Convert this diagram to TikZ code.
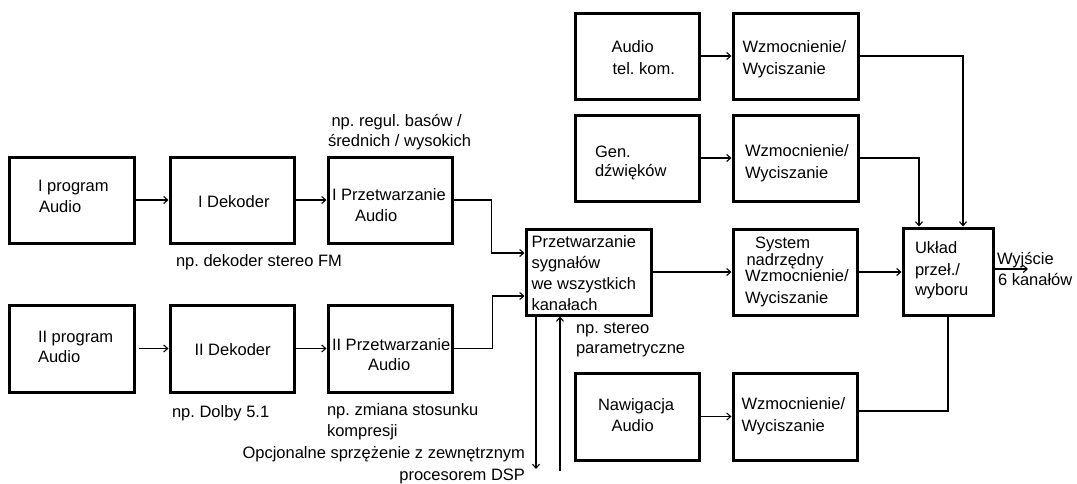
\documentclass[tikz,border=0pt]{standalone}
\usepackage{fontspec}
\setmainfont{Liberation Sans}
\usetikzlibrary{arrows.meta}
\begin{document}
\frenchspacing
\begin{tikzpicture}[x=1pt,y=-1pt,
  blk/.style={draw,line width=3pt,inner sep=0pt,minimum width=124pt,minimum height=86pt},
  lbl/.style={anchor=base west,inner sep=0pt,outer sep=0pt,font=\fontsize{16.5}{20}\selectfont},
  lblr/.style={lbl,anchor=base east},
  wire/.style={line width=1.1pt},
  arr/.style={wire,-{Straight Barb[length=4pt,width=7pt]}}]
\useasboundingbox (0,0) rectangle (1077,483);

% --- blocks ---
\node[blk,minimum width=125pt] (p1) at (71.5,200) {};
\node[blk] (d1) at (232,200) {};
\node[blk] (r1) at (390,200) {};
\node[blk,minimum width=125pt,minimum height=87pt] (p2) at (71.5,348.5) {};
\node[blk,minimum height=87pt] (d2) at (232,348.5) {};
\node[blk,minimum height=87pt] (r2) at (390,348.5) {};
\node[blk,minimum width=125pt] (pw) at (588.5,272) {};
\node[blk] (at) at (637,56) {};
\node[blk,minimum width=125pt] (w1) at (795.5,56) {};
\node[blk] (gen) at (637,158) {};
\node[blk,minimum width=125pt] (w2) at (795.5,158) {};
\node[blk] (sys) at (795,272) {};
\node[blk,minimum width=90pt,minimum height=87pt] (uk) at (948,271.5) {};
\node[blk,minimum height=87pt] (nav) at (637,416.5) {};
\node[blk,minimum height=87pt] (w3) at (795,416.5) {};

% --- texts inside blocks ---
\node[lbl] (p1a) at (38,191.5) {I program};
\node[lbl] (p1b) at (39,212.5) {Audio};
\node[lbl] (d1a) at (198,207.5) {I Dekoder};
\node[lbl] (r1a) at (332,200.5) {I Przetwarzanie};
\node[lbl] (r1b) at (355,221.5) {Audio};
\node[lbl] (p2a) at (38,342) {II program};
\node[lbl] (p2b) at (38,362.5) {Audio};
\node[lbl] (d2a) at (194.5,355.5) {II Dekoder};
\node[lbl] (r2a) at (332,350.5) {II Przetwarzanie};
\node[lbl] (r2b) at (368,370.5) {Audio};
\node[lbl] (pwa) at (531.5,247) {Przetwarzanie};
\node[lbl] (pwb) at (531.5,268.5) {sygnałów};
\node[lbl] (pwc) at (531.5,289.5) {we wszystkich};
\node[lbl] (pwd) at (531.5,310.5) {kanałach};
\node[lbl] (ata) at (611.5,52) {Audio};
\node[lbl] (atb) at (612.5,74) {tel. kom.};
\node[lbl] (w1a) at (742.5,52) {Wzmocnienie/};
\node[lbl] (w1b) at (742.5,74) {Wyciszanie};
\node[lbl] (gena) at (595,157) {Gen.};
\node[lbl] (genb) at (595,176) {dźwięków};
\node[lbl] (w2a) at (745,156.5) {Wzmocnienie/};
\node[lbl] (w2b) at (745,178.5) {Wyciszanie};
\node[lbl] (sysa) at (755,248.5) {System};
\node[lbl] (sysb) at (746.5,265.5) {nadrzędny};
\node[lbl] (sysc) at (745,281.5) {Wzmocnienie/};
\node[lbl] (sysd) at (745,303.5) {Wyciszanie};
\node[lbl] (uka) at (915,253.5) {Układ};
\node[lbl] (ukb) at (915,275.5) {przeł./};
\node[lbl] (ukc) at (915,295.5) {wyboru};
\node[lbl] (nava) at (598,410.5) {Nawigacja};
\node[lbl] (navb) at (611.5,431.5) {Audio};
\node[lbl] (w3a) at (741.5,409.5) {Wzmocnienie/};
\node[lbl] (w3b) at (741.5,431.5) {Wyciszanie};

% --- annotations ---
\node[lbl] (n1a) at (331.5,126) {np. regul. basów /};
\node[lbl] (n1b) at (328,146) {średnich / wysokich};
\node[lbl] (n2) at (176,266.5) {np. dekoder stereo FM};
\node[lbl] (n3) at (172,417.5) {np. Dolby 5.1};
\node[lbl] (n4a) at (327,415.5) {np. zmiana stosunku};
\node[lbl] (n4b) at (327,436.5) {kompresji};
\node[lblr] (n5a) at (525,458.5) {Opcjonalne sprzężenie z zewnętrznym};
\node[lblr] (n5b) at (525,480) {procesorem DSP};
\node[lbl] (n6a) at (576,333) {np. stereo};
\node[lbl] (n6b) at (576,353.5) {parametryczne};
\node[lbl] (outa) at (997,264.5) {Wyjście};
\node[lbl] (outb) at (998,285.5) {6 kanałów};

% --- free ends ---
\coordinate (out) at (1028,269);
\coordinate (dspout) at (536,469);
\coordinate (dspin) at (560,471);

% --- connectors ---
\draw[arr] (p1.east) -- (d1.west);
\draw[arr] (d1.east) -- (r1.west);
\draw[arr] ([xshift=3pt]p2.east) -- (d2.west);
\draw[arr] (d2.east) -- (r2.west);
\draw[arr] (r1.east) -- ++(38,0) |- ([yshift=19pt]pw.west);
\draw[arr] (r2.east) -- ++(39,0) |- ([yshift=-24pt]pw.west);
\draw[arr] (pw.east) -- (sys.west);
\draw[arr] (sys.east) -- (sys.east -| uk.west);
\draw[arr] (uk.east |- out) -- (out);
\draw[arr] (at.east) -- (w1.west);
\draw[arr] (gen.east) -- (w2.west);
\draw[arr] (nav.east) -- (w3.west);
\draw[arr] (w1.east) -| ([xshift=15pt]uk.north);
\draw[arr] (w2.east) -| ([xshift=-29pt]uk.north);
\draw[wire] ([yshift=5.5pt]w3.east) -| (uk.south);
\draw[arr] (pw.south -| dspout) -- (dspout);
\draw[arr] (dspin) -- (dspin |- pw.south);
\end{tikzpicture}
\end{document}
